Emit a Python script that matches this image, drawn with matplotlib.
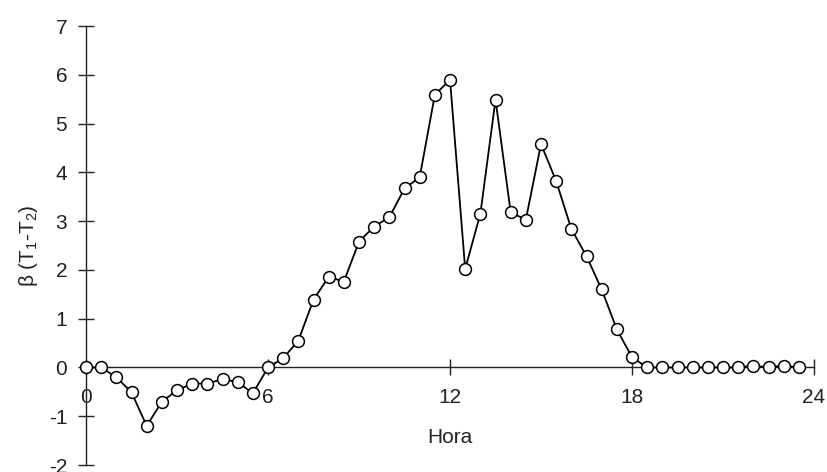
import numpy as np
import matplotlib
matplotlib.use("Agg")
import matplotlib.pyplot as plt

plt.rcParams['font.family'] = ['Liberation Sans', 'DejaVu Sans']
plt.rcParams['mathtext.default'] = 'regular'
plt.rcParams['axes.unicode_minus'] = False

# half-hourly readings
hora = np.arange(0, 24, 0.5)
beta = [0.00, 0.00, -0.20, -0.51, -1.20, -0.70, -0.47, -0.33, -0.33, -0.24,
        -0.30, -0.53, 0.00, 0.19, 0.55, 1.39, 1.86, 1.76, 2.58, 2.89,
        3.08, 3.67, 3.90, 5.59, 5.90, 2.02, 3.15, 5.49, 3.18, 3.03,
        4.58, 3.82, 2.84, 2.28, 1.60, 0.78, 0.21, 0.00, 0.00, 0.00,
        0.00, 0.00, 0.00, 0.00, 0.04, 0.00, 0.04, 0.00]
xticks = [0, 6, 12, 18, 24]
yticks = list(range(-2, 8))

fs = 15

fig = plt.figure(figsize=(8.28, 4.72), dpi=100)
ax = fig.add_axes([0.1039, 0.0148, 0.8792, 0.930])

ax.plot(hora, beta, color='black', lw=1.3, marker='o', ms=8.5,
        mfc='white', mec='black', mew=1.1, clip_on=False, zorder=3)

ax.set_xlim(0, 24)
ax.set_ylim(-2, 7)
ax.set_xticks(xticks)
ax.set_yticks(yticks)

for s in ['top', 'right']:
    ax.spines[s].set_visible(False)
ax.spines['bottom'].set_position(('data', 0))
for s in ['bottom', 'left']:
    ax.spines[s].set_linewidth(1.0)
    ax.spines[s].set_color('#222222')

ax.tick_params(axis='both', direction='inout', length=12, width=1.0,
               color='#222222', labelsize=fs, labelcolor='#222222')
ax.tick_params(axis='y', pad=7.5)
ax.tick_params(axis='x', pad=8.5)

ax.set_xlabel('Hora', fontsize=fs, color='#222222')
ax.xaxis.set_label_coords(0.5, 0.085)
ax.set_ylabel('β (T$_1$-T$_2$)', fontsize=fs, color='#222222', va='center')
ax.yaxis.set_label_coords(-0.079, 0.5)

fig.savefig('out.png', dpi=100)
